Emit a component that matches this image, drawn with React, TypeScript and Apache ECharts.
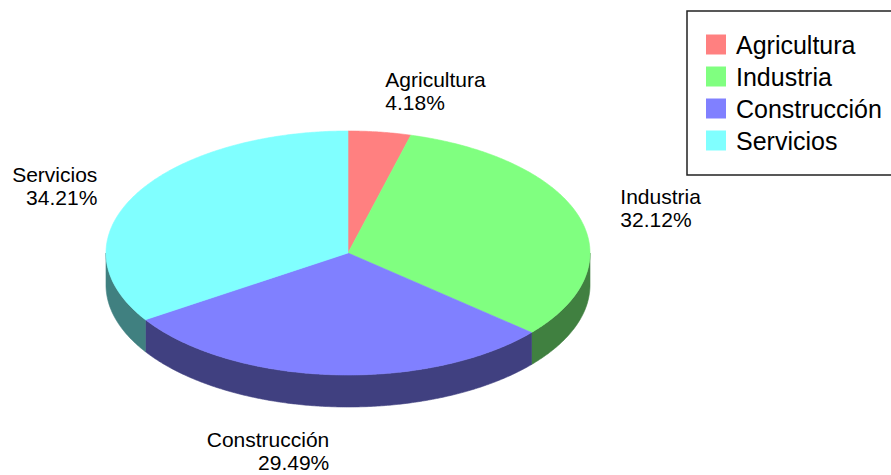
import React, { useEffect, useRef } from "react";
import * as echarts from "echarts";

const categories = ["Agricultura", "Industria", "Construcción", "Servicios"];
const values = [4.18, 32.12, 29.49, 34.21];

const topColors = ["#ff8080", "#80ff80", "#8080ff", "#80ffff"];
const sideColors = ["#804040", "#408040", "#404080", "#408080"];

const CX = 348;
const CY = 253;
const RX = 242;
const RY = 122;
const DEPTH = 32;
const LRX = 285;
const FONT = "'Liberation Sans', Arial, sans-serif";

function pt(theta: number, dy = 0): number[] {
  const r = (theta * Math.PI) / 180;
  return [CX + RX * Math.sin(r), CY - RY * Math.cos(r) + dy];
}

function arcPoints(a: number, b: number, dy = 0): number[][] {
  const pts: number[][] = [];
  const steps = Math.max(2, Math.ceil((b - a) / 0.5));
  for (let k = 0; k <= steps; k++) {
    pts.push(pt(a + ((b - a) * k) / steps, dy));
  }
  return pts;
}

export default function App() {
  const ref = useRef<HTMLDivElement>(null);
  useEffect(() => {
    document.body.style.margin = "0";
    if (!ref.current) return;
    const chart = echarts.init(ref.current, null, { renderer: "svg" });
    const total = values.reduce((s, v) => s + v, 0);

    const renderItem = (params: any, api: any) => {
      const i = params.seriesIndex;
      const v = api.value(0);
      let before = 0;
      for (let k = 0; k < i; k++) before += values[k];
      const a = (before / total) * 360;
      const b = a + (v / total) * 360;
      const children: any[] = [];
      // side wall (front half only)
      const fa = Math.max(a, 90);
      const fb = Math.min(b, 270);
      if (fb > fa) {
        const upper = arcPoints(fa, fb, 0);
        const lower = arcPoints(fa, fb, DEPTH).reverse();
        children.push({
          type: "polygon",
          z2: 1,
          shape: { points: upper.concat(lower) },
          style: { fill: sideColors[i], stroke: sideColors[i], lineWidth: 0.6 },
        });
      }
      // top face
      const topPts = [[CX, CY]].concat(arcPoints(a, b, 0));
      children.push({
        type: "polygon",
        z2: 2,
        shape: { points: topPts },
        style: { fill: topColors[i], stroke: topColors[i], lineWidth: 0.6 },
      });
      // label
      const mid = ((a + b) / 2) * (Math.PI / 180);
      const s = Math.sin(mid);
      const c = Math.cos(mid);
      const lx = CX + LRX * s;
      const ey = CY - RY * c;
      const ly =
        c >= 0
          ? ey - 9 - 66 * Math.max(0, c - 0.5)
          : ey + DEPTH + 88 * Math.max(0, -c - 0.5);
      children.push({
        type: "text",
        z2: 3,
        x: lx,
        y: ly,
        style: {
          text: categories[i] + "\n" + v.toFixed(2) + "%",
          fill: "#000",
          font: "21px " + FONT,
          fontSize: 21,
          fontFamily: FONT,
          lineHeight: 23,
          align: s >= 0 ? "left" : "right",
          verticalAlign: "middle",
        },
      });
      return { type: "group", children };
    };

    chart.setOption({
      animation: false,
      backgroundColor: "#fff",
      legend: {
        orient: "vertical",
        left: 687,
        top: 11,
        icon: "rect",
        itemWidth: 20,
        itemHeight: 20,
        itemGap: 7,
        padding: [21, 10, 22, 19],
        borderColor: "#222",
        borderWidth: 1.5,
        selectedMode: false,
        data: categories,
        textStyle: {
          fontFamily: FONT,
          fontSize: 25,
          lineHeight: 25,
          color: "#000",
          padding: [0, 0, 0, 5],
        },
      },
      series: categories.map((name, i) => ({
        type: "custom",
        name,
        coordinateSystem: "none",
        itemStyle: { color: topColors[i] },
        renderItem,
        data: [[values[i]]],
      })),
    });
    return () => chart.dispose();
  }, []);
  return <div ref={ref} style={{ width: 891, height: 475 }} />;
}
